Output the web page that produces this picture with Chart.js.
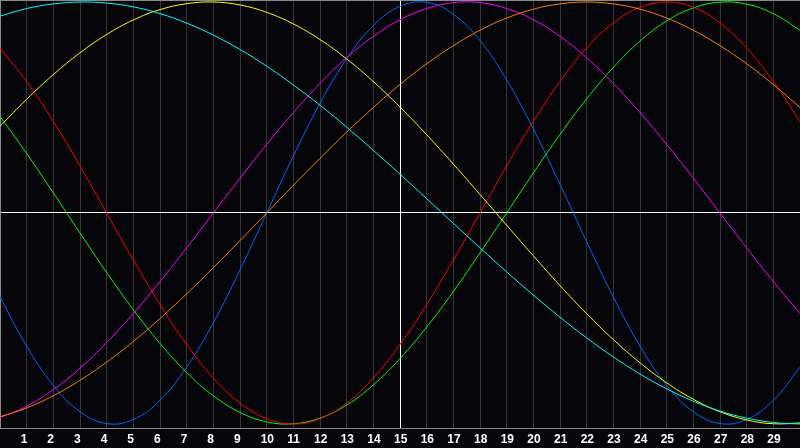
<!DOCTYPE html>
<html>
<head>
<meta charset="utf-8">
<script src="https://cdn.jsdelivr.net/npm/chart.js@4/dist/chart.umd.min.js"></script>
<style>
  html, body { margin: 0; padding: 0; background: #05050a; }
  #chart { display: block; }
</style>
</head>
<body>
<canvas id="chart" width="800" height="448"></canvas>
<script>
// day positions on the x axis (0 = left edge, 30 = right edge)
const days = [0, 1, 2, 3, 4, 5, 6, 7, 8, 9, 10, 11, 12, 13, 14, 15,
  16, 17, 18, 19, 20, 21, 22, 23, 24, 25, 26, 27, 28, 29, 30];
const tickDays = [1, 2, 3, 4, 5, 6, 7, 8, 9, 10, 11, 12, 13, 14, 15,
  16, 17, 18, 19, 20, 21, 22, 23, 24, 25, 26, 27, 28, 29];
const todayMark = 15;

// cycle values, -1 .. 1
const physical = [-0.398, -0.631, -0.817, -0.942, -0.998, -0.979, -0.888, -0.731, -0.520, -0.270,
  0, 0.270, 0.520, 0.731, 0.888, 0.979, 0.998, 0.942, 0.817, 0.631,
  0.398, 0.136, -0.136, -0.398, -0.631, -0.817, -0.942, -0.998, -0.979, -0.888, -0.731];
const emotional = [0.782, 0.623, 0.434, 0.223, 0, -0.223, -0.434, -0.623, -0.782, -0.901,
  -0.975, -1, -0.975, -0.901, -0.782, -0.623, -0.434, -0.223, 0, 0.223,
  0.434, 0.623, 0.782, 0.901, 0.975, 1, 0.975, 0.901, 0.782, 0.623, 0.434];
const intellectual = [0.458, 0.282, 0.095, -0.095, -0.282, -0.458, -0.618, -0.756, -0.866, -0.945,
  -0.990, -0.999, -0.972, -0.910, -0.815, -0.690, -0.541, -0.372, -0.189, 0,
  0.189, 0.372, 0.541, 0.690, 0.815, 0.910, 0.972, 0.999, 0.990, 0.945, 0.866];
const intuitive = [-0.969, -0.916, -0.837, -0.736, -0.614, -0.476, -0.325, -0.165, 0, 0.165,
  0.325, 0.476, 0.614, 0.736, 0.837, 0.916, 0.969, 0.997, 0.997, 0.969,
  0.916, 0.837, 0.736, 0.614, 0.476, 0.325, 0.165, 0, -0.165, -0.325, -0.476];
const aesthetic = [0.411, 0.539, 0.656, 0.759, 0.846, 0.915, 0.964, 0.992, 1.000, 0.986,
  0.951, 0.896, 0.822, 0.730, 0.623, 0.502, 0.371, 0.232, 0.088, -0.058,
  -0.203, -0.344, -0.477, -0.600, -0.710, -0.805, -0.883, -0.942, -0.981, -0.999, -0.995];
const awareness = [-0.966, -0.924, -0.866, -0.793, -0.707, -0.609, -0.5, -0.383, -0.259, -0.131,
  0, 0.131, 0.259, 0.383, 0.5, 0.609, 0.707, 0.793, 0.866, 0.924,
  0.966, 0.991, 1, 0.991, 0.966, 0.924, 0.866, 0.793, 0.707, 0.609, 0.5];
const spiritual = [0.933, 0.969, 0.991, 1.000, 0.995, 0.977, 0.945, 0.900, 0.843, 0.775,
  0.696, 0.607, 0.511, 0.407, 0.297, 0.184, 0.068, -0.049, -0.165, -0.279,
  -0.389, -0.494, -0.592, -0.682, -0.763, -0.833, -0.892, -0.939, -0.972, -0.993, -1.000];

const yMin = -1.019;
const yMax = 1.0095;

const colors = {
  physical: "#0066ff",
  emotional: "#ff0000",
  intellectual: "#00ff00",
  intuitive: "#ff00ff",
  aesthetic: "#ffff00",
  awareness: "#ff8000",
  spiritual: "#00ffff",
};

function series(label, values, color) {
  return {
    label: label,
    data: days.map((d, i) => ({ x: d, y: values[i] })),
    borderColor: color,
    borderWidth: 1,
    pointRadius: 0,
    tension: 0.4,
    fill: false,
  };
}

new Chart(document.getElementById("chart"), {
  type: "line",
  data: {
    datasets: [
      series("Spiritual", spiritual, colors.spiritual),
      series("Aesthetic", aesthetic, colors.aesthetic),
      series("Awareness", awareness, colors.awareness),
      series("Intuitive", intuitive, colors.intuitive),
      series("Emotional", emotional, colors.emotional),
      series("Intellectual", intellectual, colors.intellectual),
      series("Physical", physical, colors.physical),
    ],
  },
  options: {
    responsive: false,
    animation: false,
    devicePixelRatio: 1,
    layout: { padding: 0, autoPadding: false },
    plugins: { legend: { display: false }, tooltip: { enabled: false } },
    scales: {
      x: {
        type: "linear",
        min: 0,
        max: 30,
        afterBuildTicks: (axis) => {
          axis.ticks = days.map((d) => ({ value: d }));
        },
        afterFit: (axis) => {
          axis.height = 20;
          axis.paddingLeft = 0;
          axis.paddingRight = 0;
        },
        grid: {
          drawTicks: true,
          tickLength: 4,
          tickColor: "rgba(0,0,0,0)",
          color: (ctx) => {
            if (ctx.tick.value === todayMark) return "#ffffff";
            if (ctx.tick.value === 0) return "#8a8a8a";
            return "#363636";
          },
        },
        border: { color: "#8a8a8a" },
        ticks: {
          autoSkip: false,
          maxRotation: 0,
          align: "start",
          labelOffset: -6,
          padding: 0,
          color: "#ffffff",
          font: { family: "Liberation Sans", size: 12, weight: "bold" },
          callback: (v) => (tickDays.includes(v) ? String(v) : ""),
        },
      },
      y: {
        min: yMin,
        max: yMax,
        afterBuildTicks: (axis) => {
          axis.ticks = [{ value: yMin }, { value: 0 }, { value: yMax }];
        },
        afterFit: (axis) => {
          axis.width = 0;
        },
        grid: {
          drawTicks: false,
          color: (ctx) => {
            if (ctx.tick.value === 0) return "#ffffff";
            if (ctx.tick.value === yMax) return "#8a8a8a";
            return "rgba(0,0,0,0)";
          },
        },
        border: { color: "#8a8a8a" },
        ticks: { display: false },
      },
    },
  },
});
</script>
</body>
</html>
